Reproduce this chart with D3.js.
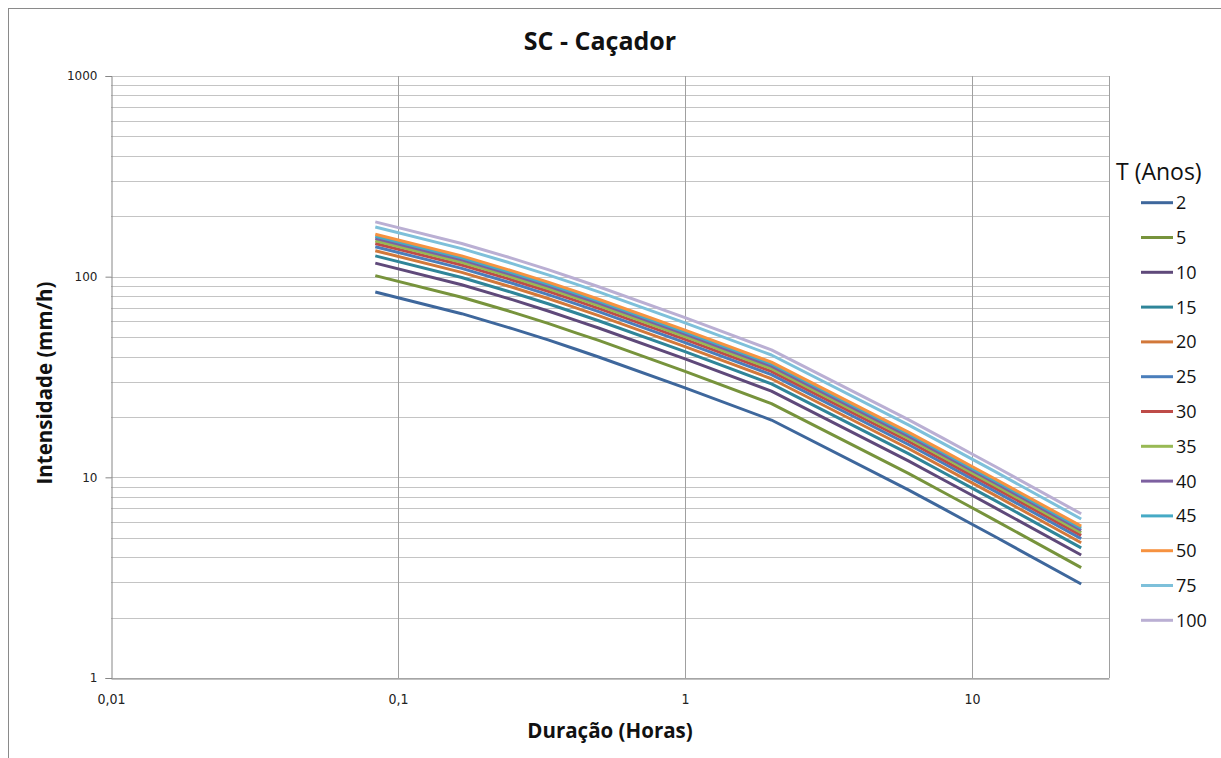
<!DOCTYPE html>
<html lang="pt">
<head>
  <meta charset="UTF-8">
  <title>SC - Caçador</title>
  <script src="https://d3js.org/d3.v7.min.js"></script>
  <style>
    body { margin: 0; background: #fff; overflow: hidden; }
    .ttl { font-family: 'Open Sans', sans-serif; font-weight: bold; fill: #111; }
    .ylab { font-family: 'DejaVu Sans', sans-serif; font-size: 12px; fill: #222; }
    .xlab { font-family: 'DejaVu Sans Condensed', 'Open Sans', sans-serif; font-size: 14px; fill: #222; }
    .leg { font-family: 'Open Sans', sans-serif; fill: #111; }
  </style>
</head>
<body>
<div id="chart"></div>
<script>
// duration in minutes
const duracoes = [5, 10, 15, 20, 25, 30, 60, 120, 360, 480, 600, 720, 1440];

// intensities (mm/h), one list per return period
const i2   = [83.8, 65.4, 55.1, 48.4, 43.5, 39.8, 27.9, 19.3, 8.66, 6.94, 5.84, 5.07, 2.94];
const i5   = [101.2, 79.0, 66.6, 58.5, 52.5, 48.1, 33.7, 23.3, 10.46, 8.38, 7.05, 6.12, 3.55];
const i10  = [116.8, 91.1, 76.8, 67.4, 60.6, 55.5, 38.9, 26.9, 12.07, 9.67, 8.14, 7.06, 4.10];
const i15  = [126.9, 99.0, 83.4, 73.3, 65.9, 60.3, 42.3, 29.2, 13.12, 10.51, 8.84, 7.68, 4.45];
const i20  = [134.7, 105.1, 88.5, 77.8, 69.9, 64.0, 44.8, 31.0, 13.92, 11.15, 9.38, 8.15, 4.72];
const i25  = [141.0, 110.0, 92.7, 81.4, 73.2, 67.0, 46.9, 32.5, 14.57, 11.68, 9.83, 8.53, 4.95];
const i30  = [146.4, 114.3, 96.3, 84.6, 76.0, 69.5, 48.7, 33.7, 15.13, 12.12, 10.20, 8.86, 5.14];
const i35  = [151.1, 117.9, 99.4, 87.3, 78.4, 71.8, 50.3, 34.8, 15.62, 12.52, 10.53, 9.14, 5.30];
const i40  = [155.3, 121.2, 102.1, 89.7, 80.6, 73.8, 51.7, 35.8, 16.05, 12.86, 10.82, 9.40, 5.45];
const i45  = [159.1, 124.2, 104.6, 91.9, 82.6, 75.6, 53.0, 36.7, 16.45, 13.18, 11.09, 9.63, 5.58];
const i50  = [162.6, 126.9, 106.9, 93.9, 84.4, 77.2, 54.1, 37.5, 16.81, 13.47, 11.33, 9.84, 5.71];
const i75  = [176.8, 138.0, 116.2, 102.1, 91.8, 84.0, 58.9, 40.7, 18.27, 14.64, 12.32, 10.70, 6.20];
const i100 = [187.6, 146.4, 123.4, 108.4, 97.4, 89.1, 62.5, 43.2, 19.39, 15.54, 13.07, 11.35, 6.58];

const periodos = ["2", "5", "10", "15", "20", "25", "30", "35", "40", "45", "50", "75", "100"];
const valores = [i2, i5, i10, i15, i20, i25, i30, i35, i40, i45, i50, i75, i100];
const cores = ["#3E679C", "#77933C", "#5F497A", "#2F8599", "#D2783A", "#4A7EBB",
               "#BE4B48", "#98B954", "#7D60A0", "#46AAC5", "#F69240", "#7DC0DA", "#BAAFD3"];

const xTicks = [0.01, 0.1, 1, 10];
const xTickLabels = ["0,01", "0,1", "1", "10"];
const yTicks = [1, 10, 100, 1000];

const W = 1221, H = 758;
const plot = { left: 111, right: 1109, top: 76, bottom: 678 };

const svg = d3.select("#chart").append("svg")
    .attr("width", W)
    .attr("height", H);

// chart area border
svg.append("rect")
    .attr("x", 8.5).attr("y", 8.5)
    .attr("width", 1300).attr("height", 900)
    .attr("fill", "#fff")
    .attr("stroke", "#8a8a8a");

const x = d3.scaleLog().domain([0.01, 30]).range([plot.left, plot.right]);
const y = d3.scaleLog().domain([1, 1000]).range([plot.bottom, plot.top]);

// horizontal gridlines (major + minor)
const yGrid = [];
for (let d = 1; d < 1000; d *= 10) {
    for (let k = 1; k <= 10; k++) yGrid.push(d * k);
}
svg.append("g").selectAll("line")
    .data(yGrid)
    .enter().append("line")
    .attr("x1", plot.left).attr("x2", plot.right)
    .attr("y1", d => Math.round(y(d)) + 0.5)
    .attr("y2", d => Math.round(y(d)) + 0.5)
    .attr("stroke", "#c4c4c4")
    .attr("stroke-width", 1);

// vertical gridlines at decades
svg.append("g").selectAll("line")
    .data(xTicks.slice(1))
    .enter().append("line")
    .attr("x1", d => Math.round(x(d)) + 0.5)
    .attr("x2", d => Math.round(x(d)) + 0.5)
    .attr("y1", plot.top).attr("y2", plot.bottom)
    .attr("stroke", "#a0a0a0");

// right border of plot
svg.append("line")
    .attr("x1", plot.right + 0.5).attr("x2", plot.right + 0.5)
    .attr("y1", plot.top).attr("y2", plot.bottom)
    .attr("stroke", "#a0a0a0");

// Y axis
const yAxis = d3.axisLeft(y)
    .tickValues(yTicks)
    .tickFormat(d3.format("d"))
    .tickSize(6)
    .tickPadding(8);
const gy = svg.append("g")
    .attr("transform", `translate(${plot.left + 0.5},0)`)
    .call(yAxis);
gy.select(".domain").attr("stroke", "#868686");
gy.selectAll(".tick line").attr("stroke", "#868686");
gy.selectAll(".tick text").attr("class", "ylab").attr("font-family", null).attr("font-size", null);

// X axis
const xAxis = d3.axisBottom(x)
    .tickValues(xTicks)
    .tickFormat((d, i) => xTickLabels[i])
    .tickSize(0)
    .tickPadding(16);
const gx = svg.append("g")
    .attr("transform", `translate(0,${plot.bottom + 0.5})`)
    .call(xAxis);
gx.select(".domain").attr("stroke", "#868686");
gx.selectAll(".tick text").attr("class", "xlab").attr("font-family", null).attr("font-size", null);

// series lines
const line = d3.line()
    .x((d, i) => x(duracoes[i] / 60))
    .y(d => y(d));

svg.append("g").selectAll("path")
    .data(valores)
    .enter().append("path")
    .attr("d", d => line(d))
    .attr("fill", "none")
    .attr("stroke", (d, i) => cores[i])
    .attr("stroke-width", 3)
    .attr("stroke-linejoin", "round");

// titles
svg.append("text")
    .attr("class", "ttl")
    .attr("x", 600).attr("y", 50)
    .attr("text-anchor", "middle")
    .style("font-size", "25px")
    .text("SC - Caçador");

svg.append("text")
    .attr("class", "ttl")
    .attr("x", 610).attr("y", 738)
    .attr("text-anchor", "middle")
    .style("font-size", "20.5px")
    .text("Duração (Horas)");

svg.append("text")
    .attr("class", "ttl")
    .attr("transform", "translate(52,383) rotate(-90)")
    .attr("text-anchor", "middle")
    .style("font-size", "20.5px")
    .text("Intensidade (mm/h)");

// legend
const legend = svg.append("g").attr("class", "leg");
legend.append("text")
    .attr("x", 1116).attr("y", 180)
    .style("font-size", "23px")
    .text("T (Anos)");

const items = legend.selectAll(".item")
    .data(periodos)
    .enter().append("g")
    .attr("class", "item")
    .attr("transform", (d, i) => `translate(1141,${202.7 + i * 34.8})`);

items.append("line")
    .attr("x1", 0).attr("x2", 32)
    .attr("y1", 0).attr("y2", 0)
    .attr("stroke", (d, i) => cores[i])
    .attr("stroke-width", 3);

items.append("text")
    .attr("x", 35).attr("y", 6.5)
    .style("font-size", "18px")
    .text(d => d);
</script>
</body>
</html>
